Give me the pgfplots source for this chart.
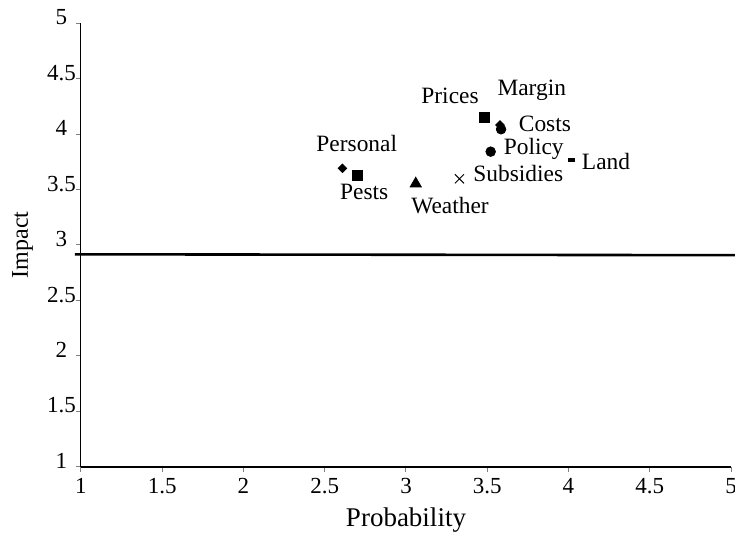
\documentclass[border=0pt]{standalone}
\usepackage{fontspec}
\setmainfont{Liberation Serif}
\usepackage{pgfplots}
\pgfplotsset{compat=1.18}
\begin{document}
\begin{tikzpicture}
\begin{axis}[name=ax, scale only axis, width=325pt, height=221.7pt,
  xmin=1, xmax=5, ymin=1, ymax=5,
  xtick={1,1.5,2,2.5,3,3.5,4,4.5,5}, ytick={1,1.5,2,2.5,3,3.5,4,4.5,5},
  xticklabels={1,1.5,2,2.5,3,3.5,4,4.5,5},
  yticklabels={1,1.5,2,2.5,3,3.5,4,4.5,5},
  axis x line=bottom, axis y line=left,
  axis line style={-},
  x axis line style={line width=1pt},
  y axis line style={line width=0.5pt},
  tick align=outside, major tick length=2.5pt,
  tick style={gray, line width=0.5pt},
  ticklabel style={font=\fontsize{11.5}{13}\selectfont},
  yticklabel style={anchor=base, xshift=-7.25pt, yshift=-0.8pt},
  xlabel={Probability}, ylabel={Impact},
  xlabel style={at={(axis description cs:0.5,-0.1353)}, anchor=base, font=\fontsize{13.5}{15}\selectfont},
  ylabel style={at={(axis description cs:-0.09,0.5)}, anchor=center, font=\fontsize{12}{14}\selectfont},
  clip=false]
\addplot[line width=1.3pt, no marks] coordinates {(0.963,2.916) (5.025,2.908)};
% Prices
\addplot[only marks, mark=square*, mark size=2.5pt] coordinates {(3.48,4.15)};
% Pests
\addplot[only marks, mark=square*, mark size=2.5pt] coordinates {(2.701,3.629)};
% Margin
\addplot[only marks, mark=square*, mark size=1.5pt, mark options={rotate=45}] coordinates {(3.578,4.083)};
% Costs
\addplot[only marks, mark=*, mark size=2.4pt] coordinates {(3.585,4.044)};
% Policy
\addplot[only marks, mark=*, mark size=2.4pt] coordinates {(3.521,3.842)};
% Personal
\addplot[only marks, mark=square*, mark size=1.5pt, mark options={rotate=45}] coordinates {(2.609,3.692)};
% Weather
\addplot[only marks, mark=triangle*, mark size=3.2pt] coordinates {(3.06,3.553)};
% Subsidies
\addplot[only marks, mark=x, mark size=3.2pt, mark options={line width=0.5pt}] coordinates {(3.329,3.597)};
% Land
\addplot[only marks, mark=-, mark size=1.75pt, mark options={line width=1.6pt}] coordinates {(4.02,3.767)};
\begin{scope}[every node/.style={font=\fontsize{11.7}{14}\selectfont, anchor=base, inner sep=0pt}]
\node at (axis cs:3.271,4.278) {Prices};
\node at (axis cs:3.774,4.347) {Margin};
\node at (axis cs:3.855,4.028) {Costs};
\node at (axis cs:3.786,3.812) {Policy};
\node at (axis cs:4.231,3.677) {Land};
\node at (axis cs:3.691,3.571) {Subsidies};
\node at (axis cs:3.271,3.28) {Weather};
\node at (axis cs:2.743,3.406) {Pests};
\node at (axis cs:2.697,3.842) {Personal};
\end{scope}
\end{axis}
\pgfresetboundingbox
\path[use as bounding box] ([shift={(-40.5pt,-36.15pt)}]ax.south west) rectangle ([shift={(2pt,11.65pt)}]ax.north east);
\end{tikzpicture}
\end{document}
